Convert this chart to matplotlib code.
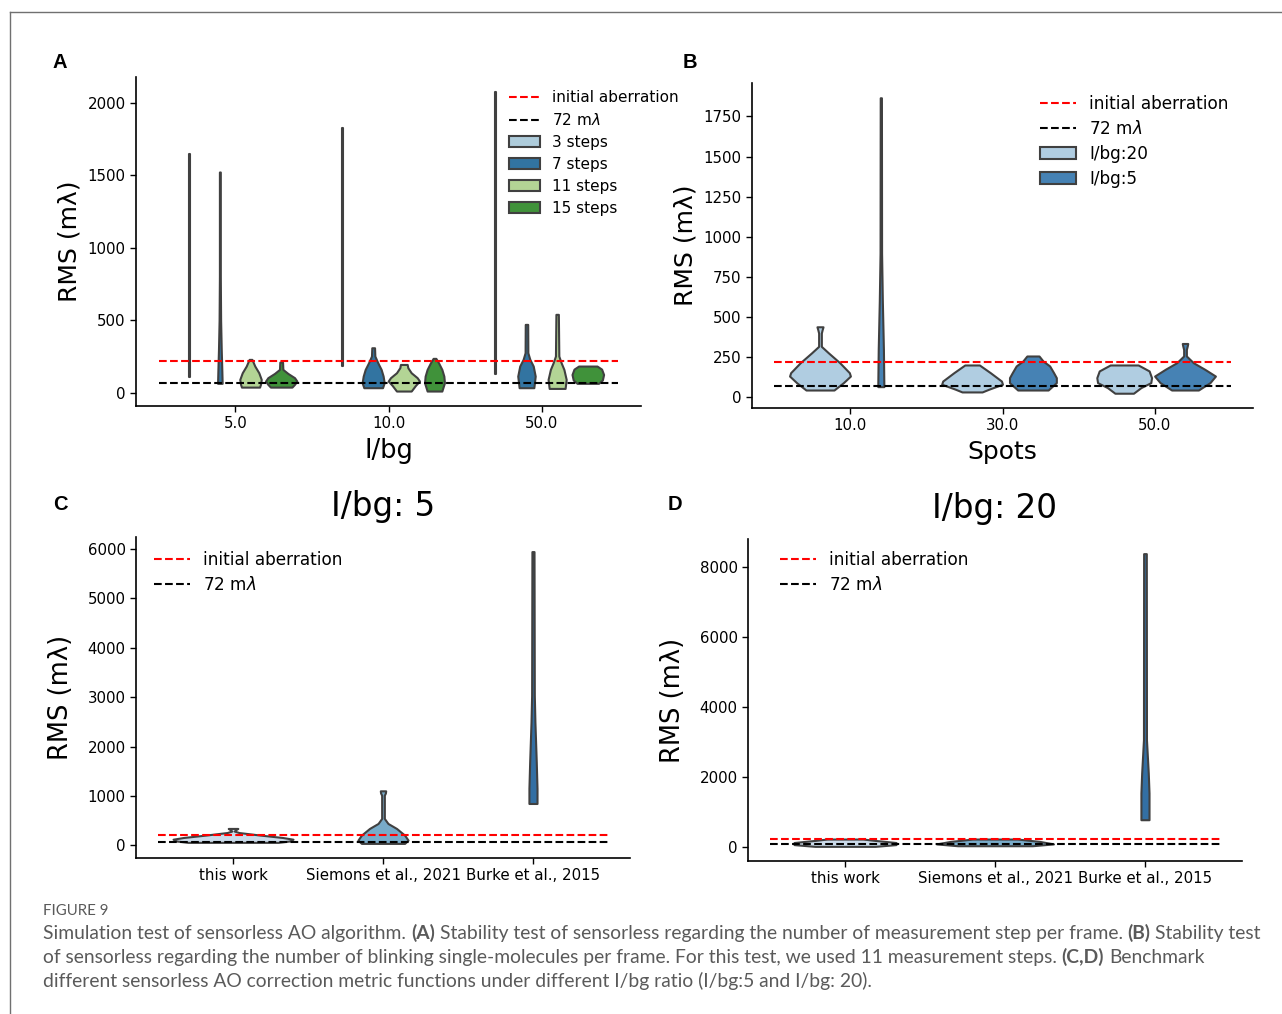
import colorsys
import matplotlib
matplotlib.use("Agg")
import matplotlib.pyplot as plt
import matplotlib.colors as mcolors
from matplotlib.patches import Patch
from matplotlib.lines import Line2D

# ------------------------------------------------------------------ data
initial_aberration = 220
target_rms = 72

# Panel A : RMS vs I/bg for different measurement steps
A_levels = ["5.0", "10.0", "50.0"]
A_hues = ["3 steps", "7 steps", "11 steps", "15 steps"]
A_palette = ["#a6cee3", "#1f78b4", "#b2df8a", "#33a02c"]
# violin outlines: (RMS value, half width in category units), one per I/bg level
A_3steps = [
    [(112, .004), (1644, .004)],
    [(186, .004), (1828, .004)],
    [(129, .004), (2073, .004)],
]
A_7steps = [
    [(67, .015), (150, .013), (300, .009), (500, .005), (800, .003), (1522, .003)],
    [(37, .061), (71, .072), (117, .065), (163, .052), (209, .030), (255, .011), (312, .009)],
    [(37, .048), (117, .057), (186, .044), (232, .022), (278, .009), (473, .008)],
]
A_11steps = [
    [(41, .059), (60, .065), (94, .070), (140, .054), (186, .028), (232, .009)],
    [(14, .048), (53, .076), (83, .102), (106, .087), (140, .048), (175, .026), (197, .022)],
    [(32, .052), (94, .059), (163, .044), (209, .026), (255, .011), (542, .008)],
]
A_15steps = [
    [(41, .070), (60, .087), (83, .102), (106, .087), (135, .044), (163, .011), (213, .009)],
    [(14, .048), (71, .065), (117, .061), (163, .048), (209, .026), (239, .009)],
    [(67, .070), (90, .095), (128, .103), (165, .090), (186, .060)],
]

# Panel B : RMS vs number of spots
B_levels = ["10.0", "30.0", "50.0"]
B_hues = ["I/bg:20", "I/bg:5"]
B_palette = ["#b0cde1", "#4682b4"]
B_ibg20 = [
    [(45, .092), (91, .154), (132, .200), (153, .193), (215, .130), (277, .055),
     (317, .009), (400, .009), (420, .014), (439, .020)],
    [(33, .066), (50, .110), (81, .200), (101, .193), (153, .120), (201, .048)],
    [(25, .061), (60, .110), (91, .175), (122, .180), (164, .164), (201, .092)],
]
B_ibg5 = [
    [(66, .020), (300, .017), (600, .010), (900, .005), (1866, .004)],
    [(45, .100), (91, .154), (122, .154), (153, .136), (195, .110), (226, .066), (257, .040)],
    [(45, .088), (91, .164), (132, .200), (174, .130), (215, .055), (257, .009),
     (298, .009), (320, .015), (335, .018)],
]

# Panels C / D : benchmark of metric functions
CD_methods = ["this work", "Siemons et al., 2021", "Burke et al., 2015"]
CD_palette = ["#c6dbef", "#6baed6", "#2171b5"]
C_title = "I/bg: 5"
C_violins = [
    [(61, .30), (90, .38), (125, .40), (160, .33), (209, .18), (260, .04), (290, .008),
     (320, .020), (343, .032)],
    [(40, .144), (107, .167), (208, .144), (343, .090), (444, .033), (545, .009),
     (1016, .009), (1060, .016), (1104, .018)],
    [(848, .027), (1152, .027), (1690, .022), (2498, .013), (3037, .009), (5946, .007)],
]
D_title = "I/bg: 20"
D_violins = [
    [(10, .20), (60, .34), (120, .34), (180, .20), (219, .12)],
    [(28, .25), (80, .39), (150, .30), (219, .15)],
    [(771, .027), (1534, .027), (2105, .022), (3057, .010), (8371, .009)],
]

caption_head = "FIGURE 9"
caption_lines = [
    [("Simulation test of sensorless AO algorithm.", False), ("(A)", True),
     ("Stability test of sensorless regarding the number of measurement step per frame.", False),
     ("(B)", True), ("Stability test", False)],
    [("of sensorless regarding the number of blinking single-molecules per frame. For this test, we used 11 measurement steps.", False),
     ("(C,D)", True), ("Benchmark", False)],
    [("different sensorless AO correction metric functions under different I/bg ratio (I/bg:5 and I/bg: 20).", False)],
]

# ------------------------------------------------------------------ helpers
W, H = 1282, 1014
EDGE = "#404040"
XLIM = (-0.647, 2.647)


def desat(c, p=0.75):
    r, g, b = mcolors.to_rgb(c)
    h, l, s = colorsys.rgb_to_hls(r, g, b)
    return colorsys.hls_to_rgb(h, l, s * p)


def rect(l, t, r, b):
    return [l / W, 1 - b / H, (r - l) / W, (b - t) / H]


def violin(ax, xc, prof, color):
    ys = [p[0] for p in prof]
    ws = [p[1] for p in prof]
    ax.fill_betweenx(ys, [xc - w for w in ws], [xc + w for w in ws],
                     facecolor=color, edgecolor=EDGE, linewidth=1.5, zorder=2)


def set_ylim(ax, profs):
    vals = [p[0] for prof in profs for p in prof]
    lo, hi = min(vals), max(vals)
    m = 0.05 * (hi - lo)
    ax.set_ylim(lo - m, hi + m)


def ref_lines(ax):
    ax.hlines(initial_aberration, -0.5, 2.5, colors="red", linestyles="--", lw=1.5, zorder=3)
    ax.hlines(target_rms, -0.5, 2.5, colors="black", linestyles="--", lw=1.5, zorder=3)


def style(ax):
    for s in ("top", "right"):
        ax.spines[s].set_visible(False)
    for s in ("left", "bottom"):
        ax.spines[s].set_linewidth(1.2)
    ax.tick_params(labelsize=10.8, width=1.0, length=4)
    ax.set_xlim(*XLIM)


line_handles = [Line2D([], [], color="red", ls="--", lw=1.5),
                Line2D([], [], color="black", ls="--", lw=1.5)]
line_labels = ["initial aberration", "72 m$\\lambda$"]

fig = plt.figure(figsize=(W / 100, H / 100), dpi=100)

# ------------------------------------------------------------------ panel A
axA = fig.add_axes(rect(136, 77, 641, 406))
A_sets = [A_3steps, A_7steps, A_11steps, A_15steps]
for i in range(len(A_levels)):
    for j, profs in enumerate(A_sets):
        violin(axA, i - 0.3 + 0.2 * j, profs[i], desat(A_palette[j]))
ref_lines(axA)
style(axA)
set_ylim(axA, [p for s in A_sets for p in s])
axA.set_xticks(range(len(A_levels)))
axA.set_xticklabels(A_levels)
axA.set_yticks([0, 500, 1000, 1500, 2000])
axA.set_xlabel("I/bg", fontsize=18.5, labelpad=5)
axA.set_ylabel("RMS (mλ)", fontsize=18)
axA.legend(line_handles + [Patch(facecolor=desat(c), edgecolor=EDGE, lw=1.5) for c in A_palette],
           line_labels + A_hues, loc="upper left", bbox_to_anchor=(509 / W, 1 - 90 / H),
           bbox_transform=fig.transFigure, frameon=False, fontsize=11, borderaxespad=0,
           borderpad=0, labelspacing=0.46, handlelength=2.0, handletextpad=0.8,
           handleheight=0.75)

# ------------------------------------------------------------------ panel B
axB = fig.add_axes(rect(752, 83, 1253, 408))
B_sets = [B_ibg20, B_ibg5]
for i in range(len(B_levels)):
    for j, profs in enumerate(B_sets):
        violin(axB, i - 0.2 + 0.4 * j, profs[i], B_palette[j])
ref_lines(axB)
style(axB)
set_ylim(axB, [p for s in B_sets for p in s])
axB.set_xticks(range(len(B_levels)))
axB.set_xticklabels(B_levels)
axB.set_yticks([0, 250, 500, 750, 1000, 1250, 1500, 1750])
axB.set_xlabel("Spots", fontsize=18, labelpad=5)
axB.set_ylabel("RMS (mλ)", fontsize=18)
axB.legend(line_handles + [Patch(facecolor=c, edgecolor=EDGE, lw=1.5) for c in B_palette],
           line_labels + B_hues, loc="upper left", bbox_to_anchor=(1040 / W, 1 - 95 / H),
           bbox_transform=fig.transFigure, frameon=False, fontsize=12.2, borderaxespad=0,
           borderpad=0, labelspacing=0.42, handlelength=2.1, handletextpad=0.8)

# ------------------------------------------------------------------ panels C, D
for rect_px, profs, title, ticks, anchor in [
        ((136, 537, 630, 858), C_violins, C_title, [0, 1000, 2000, 3000, 4000, 5000, 6000], 154),
        ((748, 539, 1242, 861), D_violins, D_title, [0, 2000, 4000, 6000, 8000], 780)]:
    ax = fig.add_axes(rect(*rect_px))
    for i, prof in enumerate(profs):
        violin(ax, i, prof, desat(CD_palette[i]))
    ref_lines(ax)
    style(ax)
    set_ylim(ax, profs)
    ax.set_xticks(range(len(CD_methods)))
    ax.set_xticklabels(CD_methods)
    ax.set_yticks(ticks)
    ax.set_ylabel("RMS (mλ)", fontsize=18.5, labelpad=10)
    ax.set_title(title, fontsize=23.5, pad=15)
    ax.legend(line_handles, line_labels, loc="upper left",
              bbox_to_anchor=(anchor / W, 1 - 551 / H), bbox_transform=fig.transFigure,
              frameon=False, fontsize=12.2, borderaxespad=0, borderpad=0,
              labelspacing=0.42, handlelength=2.1, handletextpad=0.8)

# ------------------------------------------------------------------ panel letters
for letter, x, y in [("A", 60, 62), ("B", 690, 62), ("C", 60, 505), ("D", 675, 505)]:
    fig.text(x / W, 1 - y / H, letter, fontsize=14.5, fontweight="bold",
             family=["Liberation Sans", "DejaVu Sans"], ha="center", va="center")

# ------------------------------------------------------------------ frame lines
fig.add_artist(Line2D([10 / W, 10 / W], [0, 1 - 12 / H], color="#707070", lw=1.0,
                      transform=fig.transFigure))
fig.add_artist(Line2D([10 / W, 1], [1 - 12 / H, 1 - 12 / H], color="#707070", lw=1.0,
                      transform=fig.transFigure))

# ------------------------------------------------------------------ caption
renderer = fig.canvas.get_renderer()
CAP_FAM = ["Lato", "DejaVu Sans"]
CAP_COL = "#5a5a5a"


def text_w(s, size, bold):
    t = fig.text(0, 0, s, fontsize=size, family=CAP_FAM,
                 fontweight="bold" if bold else "normal")
    w = t.get_window_extent(renderer).width
    t.remove()
    return w


def line_w(segs, size):
    sp = text_w("a a", size, False) - text_w("aa", size, False)
    return sum(text_w(s, size, b) for s, b in segs) + sp * (len(segs) - 1)


base = 12.0
cap_size = base * 1217 / line_w(caption_lines[0], base)

fig.text(43 / W, 1 - 915 / H, caption_head, fontsize=cap_size * 0.78, family=CAP_FAM,
         color=CAP_COL, va="baseline")
space = text_w("a a", cap_size, False) - text_w("aa", cap_size, False)
for k, segs in enumerate(caption_lines):
    x = 43.0
    yb = 939 + 24 * k
    for s, b in segs:
        fig.text(x / W, 1 - yb / H, s, fontsize=cap_size, family=CAP_FAM, color=CAP_COL,
                 fontweight="bold" if b else "normal", va="baseline")
        x += text_w(s, cap_size, b) + space

fig.savefig("out.png", dpi=100)
